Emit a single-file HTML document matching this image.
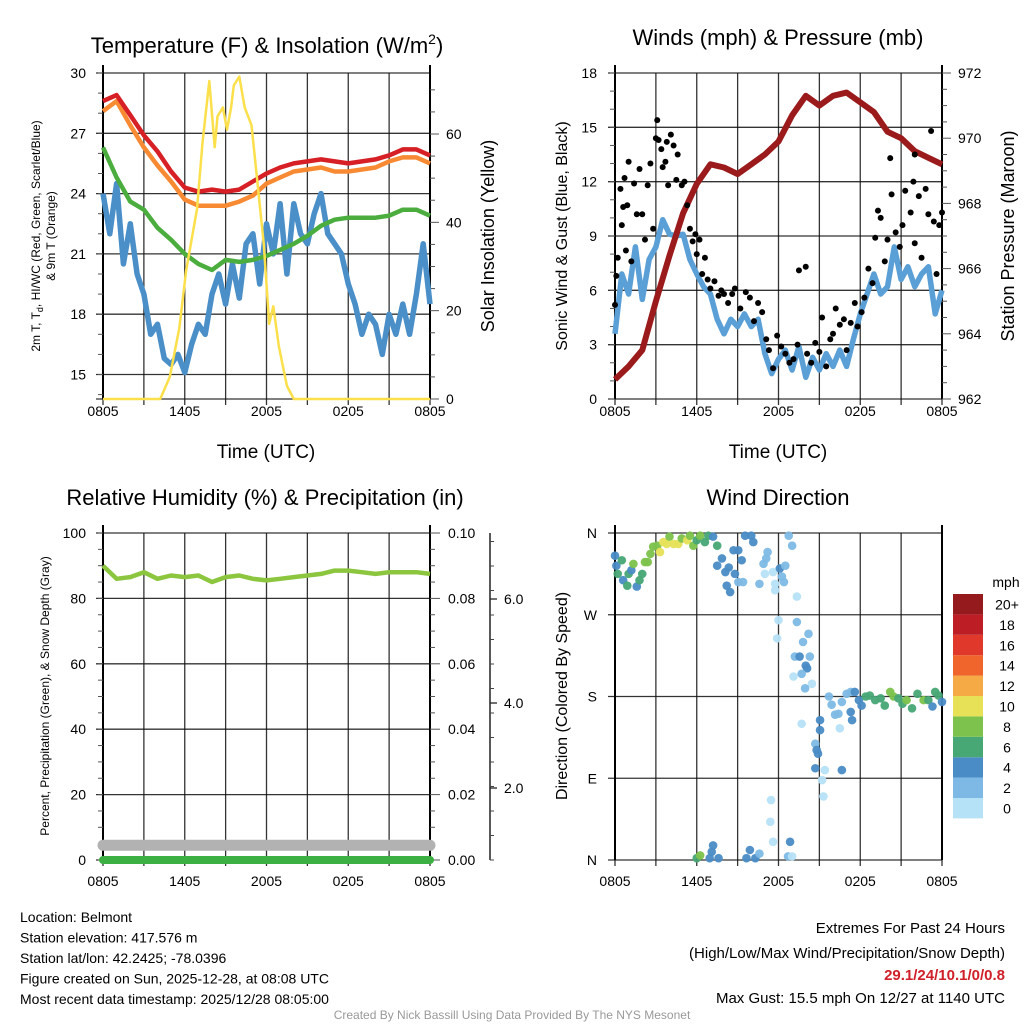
<!DOCTYPE html>
<html><head><meta charset="utf-8"><style>
html,body{margin:0;padding:0;background:#fff;}
svg{display:block;font-family:"Liberation Sans",sans-serif;}
</style></head><body>
<svg id="c" width="1024" height="1024" viewBox="0 0 1024 1024"></svg>
<script>
// ---------- DATA ----------
const hours = [0,1,2,3,4,5,6,7,8,9,10,11,12,13,14,15,16,17,18,19,20,21,22,23,24];
const xTickLabels = ["0805","1405","2005","0205","0805"];
const tempRed = [28.6,28.9,27.9,26.9,26.1,25.1,24.3,24.1,24.2,24.1,24.2,24.6,25.0,25.3,25.5,25.6,25.7,25.6,25.5,25.6,25.7,25.9,26.2,26.2,25.9];
const tempOrange = [28.1,28.6,27.4,26.3,25.4,24.6,23.7,23.4,23.4,23.4,23.6,23.9,24.5,24.8,25.1,25.2,25.3,25.1,25.1,25.2,25.3,25.6,25.8,25.8,25.5];
const tempGreen = [26.3,24.8,23.6,23.2,22.3,21.7,21.0,20.5,20.2,20.7,20.6,20.7,20.9,21.2,21.5,21.9,22.4,22.7,22.8,22.8,22.8,22.9,23.2,23.2,22.9];
const halfHours = [0,0.5,1,1.5,2,2.5,3,3.5,4,4.5,5,5.5,6,6.5,7,7.5,8,8.5,9,9.5,10,10.5,11,11.5,12,12.5,13,13.5,14,14.5,15,15.5,16,16.5,17,17.5,18,18.5,19,19.5,20,20.5,21,21.5,22,22.5,23,23.5,24];
const tempBlue = [24.0,22.0,24.5,20.5,22.5,20.0,19.0,17.0,17.5,15.8,15.5,16.0,15.1,16.5,17.5,17.0,19.0,20.0,18.5,20.5,18.8,21.5,22.0,19.5,22.5,21.0,23.5,20.0,23.5,22.0,21.5,23.0,24.0,22.0,21.5,21.0,19.5,18.5,17.0,18.0,17.5,16.0,18.0,17.0,18.5,17.0,19.0,21.5,18.5];
const solarTimes = [0,4.2,4.9,5.6,6.1,6.9,7.3,7.8,8.2,8.4,8.8,9.1,9.4,9.6,10.0,10.4,10.9,11.3,11.8,12.2,12.5,12.9,13.5,14.0,24];
const solarVals = [0,0,5,16,29,43,58,72,57,64,66,61,66,71,73,66,62,50,35,17,21,12,3,0,0];
const windBlue = [3.6,6.9,5.8,8.4,5.5,7.7,8.4,9.9,9.1,9.0,9.1,7.7,6.9,6.2,5.8,4.4,3.6,4.4,4.0,4.7,4.0,4.4,2.5,1.4,2.2,2.7,1.6,2.9,1.2,2.3,1.6,2.5,1.8,2.7,1.8,3.3,4.7,5.8,6.9,5.8,6.2,8.4,6.6,7.3,6.2,6.9,7.3,4.7,6.0];
const pressure = [962.6,963.0,963.5,965.0,966.4,967.7,968.6,969.2,969.1,968.9,969.2,969.5,969.9,970.7,971.3,971.0,971.3,971.4,971.1,970.8,970.2,970.0,969.6,969.4,969.2];
const gustTimes = [0.0,0.1,0.2,0.4,0.5,0.6,0.7,0.8,0.9,1.0,1.2,1.4,1.6,1.8,2.0,2.2,2.4,2.6,2.8,3.0,3.1,3.2,3.4,3.5,3.7,3.8,3.9,4.1,4.3,4.5,4.6,4.9,5.1,5.3,5.5,5.7,5.9,6.0,6.2,6.4,6.6,6.8,7.0,7.3,7.6,7.8,8.0,8.3,8.6,8.8,9.2,9.6,9.9,10.2,10.5,10.8,11.1,11.3,11.6,11.9,12.2,12.5,12.8,13.1,13.4,13.5,14.0,14.1,14.4,14.7,15.0,15.2,15.5,15.8,16.0,16.2,16.5,16.8,17.0,17.3,17.6,17.8,18.1,18.3,18.6,18.9,19.1,19.3,19.5,19.8,20.0,20.3,20.6,20.9,21.1,21.3,21.7,22.0,22.3,22.5,22.8,23.0,23.2,23.4,23.6,23.8,24.0,22.0,20.2,21.9];
const gustVals = [5.2,6.8,7.8,11.6,9.6,10.6,12.2,8.2,10.7,13.1,7.6,11.9,10.2,12.7,10.2,8.8,11.8,13.0,9.4,14.4,15.4,14.3,13.8,12.8,13.1,14.2,11.8,14.6,14.0,12.1,13.5,11.8,12.0,10.7,9.4,8.7,9.1,8.0,8.8,6.9,7.8,6.6,6.1,6.5,5.7,6.0,5.8,5.3,5.8,6.1,5.0,5.9,5.6,4.3,5.3,4.8,3.3,2.7,1.7,3.5,2.9,2.5,2.0,2.2,3.0,7.1,7.3,2.5,2.0,3.1,2.6,4.5,1.8,3.3,3.6,5.0,4.1,4.4,2.7,4.2,5.3,4.0,4.8,5.6,7.2,6.4,8.9,10.4,10.0,7.6,8.8,11.3,9.2,8.4,9.6,11.5,10.3,8.6,11.2,7.8,11.6,10.2,14.8,9.8,6.9,9.6,10.3,13.5,13.3,12.0];
const rhVals = [90,86,86.5,88,86,87,86.5,87,85,86.5,87,86,85.5,86,86.5,87,87.5,88.5,88.5,88,87.5,88,88,88,87.5];
const precipVals = [0,0,0,0,0,0,0,0,0,0,0,0,0,0,0,0,0,0,0,0,0,0,0,0,0];
const snowVals = [0.045,0.045,0.045,0.045,0.045,0.045,0.045,0.045,0.045,0.045,0.045,0.045,0.045,0.045,0.045,0.045,0.045,0.045,0.045,0.045,0.045,0.045,0.045,0.045,0.045];
const dirTimes = [0,0.1,0.2,0.5,0.6,0.9,1.0,1.2,1.35,1.6,1.8,2.0,2.2,2.4,2.6,2.8,3.1,3.3,3.55,3.8,4.0,4.3,4.65,4.9,5.3,5.5,5.75,6.0,6.25,6.6,6.85,7.2,7.5,7.5,7.85,8.1,8.35,8.2,8.45,8.7,8.8,9.05,9.3,9.05,9.4,9.55,10.0,10.15,10.6,10.9,11.1,11.2,11.0,11.6,11.75,11.75,12.1,12.25,12.4,12.5,12.75,13.0,13.35,12.0,11.9,13.35,13.8,14.2,13.2,13.55,14.0,14.1,14.3,14.45,13.7,13.1,13.95,13.7,15.05,15.05,14.7,14.8,14.9,14.7,15.4,15.2,15.3,16.65,16.5,17.4,17.3,15.7,15.9,16.15,16.4,16.65,17.0,17.3,17.6,17.9,18.1,18.4,18.7,19.1,19.5,19.8,20.2,20.45,20.8,21.1,21.4,21.8,22.2,22.65,23.0,23.3,23.5,23.75,24.0,6.0,6.25,6.95,7.1,7.2,7.6,9.65,9.9,10.3,10.6,11.4,11.45,11.6,12.7,12.85,13.0];
const dirVals = [335,324,315,330,308,302,315,319,326,301,308,315,328,328,337,345,346,339,350,348,356,348,348,354,352,357,346,352,357,350,357,356,346,324,332,317,322,302,295,341,315,341,330,306,306,357,357,350,304,326,332,339,315,317,304,297,321,312,306,324,357,346,290,264,244,262,240,249,224,224,214,211,224,194,205,202,189,150,154,143,128,121,117,101,99,88,70,99,145,154,163,180,171,160,161,174,183,185,185,176,170,180,181,176,178,170,185,180,178,172,176,167,183,176,176,169,185,181,174,2,5,2,9,16,2,2,11,2,7,42,66,20,4,20,4];
const dirSpeeds = [5,5,7,7,5,7,7,5,9,5,7,7,9,9,9,9,9,11,11,11,9,11,11,9,11,9,9,7,9,7,7,5,7,5,5,5,5,5,5,5,5,5,5,3,3,5,5,5,3,3,3,3,1,1,1,1,5,3,3,3,3,3,1,1,1,3,3,3,3,5,5,5,3,1,3,1,3,1,5,5,3,5,5,5,1,1,1,5,1,5,5,3,3,3,3,3,3,3,5,5,5,7,7,7,7,7,9,9,7,7,9,7,7,9,7,5,7,7,5,7,9,5,5,5,5,5,5,5,3,1,1,1,3,5,1];
const speedLabels = ["0","2","4","6","8","10","12","14","16","18","20+"];
const speedColors = ["#b6e2f8","#7db9e4","#4a8cc5","#47a775","#7cc24c","#e6e157","#f6aa45","#f0652c","#e0392c","#bd1e26","#941a1d"];

// ---------- HELPERS ----------
const NS="http://www.w3.org/2000/svg";
const svg=document.getElementById('c');
function mk(tag,attrs,parent){const e=document.createElementNS(NS,tag);for(const k in attrs)e.setAttribute(k,attrs[k]);(parent||svg).appendChild(e);return e;}
function txt(x,y,s,size,anchor,extra){const e=mk('text',Object.assign({x:x,y:y,'font-size':size,'text-anchor':anchor||'middle',fill:'#000'},extra||{}));e.textContent=s;return e;}
function lin(d0,d1,r0,r1){return v=>r0+(v-d0)/(d1-d0)*(r1-r0);}
function pathD(xs,ys,fx,fy){return xs.map((t,i)=>(i?'L':'M')+fx(t).toFixed(1)+','+fy(ys[i]).toFixed(1)).join('');}

function frame(x0,x1,y0,y1,name){
  const g=mk('g',{});
  
  
  for(let h=0;h<=24;h+=3){const x=lin(0,24,x0,x1)(h);
    const l=mk('line',{x1:x,x2:x,y1:y0,y2:y1+6,stroke:'#111','stroke-width':1.3,'stroke-opacity':0.85},g);
    
    }
  return g;
}
function hgrid(x0,x1,ys,name){
  ys.forEach(y=>{const l=mk('line',{x1:x0-7,x2:x1,y1:y,y2:y,stroke:'#111','stroke-width':1.3,'stroke-opacity':0.85});
    
    });
}
function xLabels(x0,x1,y){
  xTickLabels.forEach((s,i)=>{const t=txt(lin(0,4,x0,x1)(i),y,s,14);
    
    });
}
function border(x0,x1,y0,y1){
  const l=mk('line',{x1:x0,x2:x0,y1:y0-8,y2:y1,stroke:'#000','stroke-width':2});
  
  
  const r=mk('line',{x1:x1,x2:x1,y1:y0-8,y2:y1,stroke:'#000','stroke-width':2});
  
  
}

// ================= PANEL 1 =================
{
const x0=103,x1=430,y0=73,y1=399;
const fx=lin(0,24,x0,x1), fy=lin(30,15,73,374.5), fs=lin(0,60,399,134);
frame(x0,x1,y0,y1,'temperature');
hgrid(x0,x1,[15,18,21,24,27,30].map(fy).concat([y1]),'temperature');
border(x0,x1,y0,y1);
for(let v=14;v<=30;v++){const t=mk('line',{x1:x0-5,x2:x0,y1:fy(v),y2:fy(v),stroke:'#555','stroke-width':1});}
for(let v=0;v<=70;v+=5){const t=mk('line',{x1:x1,x2:x1+(v%20?5:9),y1:fs(v),y2:fs(v),stroke:'#555','stroke-width':1});}
[15,18,21,24,27,30].forEach(v=>{const t=txt(86,fy(v)+5,String(v),14,'end');});
[0,20,40,60].forEach(v=>{const t=txt(446,fs(v)+5,String(v),14,'start');});
const pb=mk('path',{d:pathD(halfHours,tempBlue,fx,fy),fill:'none',stroke:'#4a8fc8','stroke-width':5.5,'stroke-linejoin':'round'});

const pg=mk('path',{d:pathD(hours,tempGreen,fx,fy),fill:'none',stroke:'#4aad3e','stroke-width':4.5,'stroke-linejoin':'round'});

const po=mk('path',{d:pathD(hours,tempOrange,fx,fy),fill:'none',stroke:'#f78a32','stroke-width':4.5,'stroke-linejoin':'round'});

const pr=mk('path',{d:pathD(hours,tempRed,fx,fy),fill:'none',stroke:'#d71f26','stroke-width':4.5,'stroke-linejoin':'round'});

const py=mk('path',{d:pathD(solarTimes,solarVals,fx,fs),fill:'none',stroke:'#fbe04c','stroke-width':2.5,'stroke-linejoin':'round'});

xLabels(x0,x1,416);
const tt=mk('text',{x:267,y:53,'font-size':22,'text-anchor':'middle'});tt.innerHTML='Temperature (F) &amp; Insolation (W/m<tspan font-size="14" dy="-9">2</tspan><tspan dy="9">)</tspan>';

const xl=txt(266,458,'Time (UTC)',19);
const yl=mk('text',{'font-size':12,'text-anchor':'middle',transform:'translate(40,236) rotate(-90)'});
yl.innerHTML='2m T, T<tspan font-size="9" dy="3">d</tspan><tspan dy="-3">, HI/WC (Red, Green, Scarlet/Blue)</tspan>';

const yl2=txt(0,0,'& 9m T (Orange)',12,'middle',{transform:'translate(55,236) rotate(-90)'});

const yr=txt(0,0,'Solar Insolation (Yellow)',18,'middle',{transform:'translate(494,236) rotate(-90)'});

}

// ================= PANEL 2 =================
{
const x0=615,x1=942,y0=73,y1=399;
const fx=lin(0,24,x0,x1), fy=lin(0,18,399,73), fp=lin(962,972,399,73);
frame(x0,x1,y0,y1,'winds');
hgrid(x0,x1,[0,3,6,9,12,15,18].map(fy),'winds');
border(x0,x1,y0,y1);
for(let v=0;v<=18;v++){const t=mk('line',{x1:x0-5,x2:x0,y1:fy(v),y2:fy(v),stroke:'#555','stroke-width':1});}
for(let v=962;v<=972;v+=0.5){const t=mk('line',{x1:x1,x2:x1+(v%2?5:9),y1:fp(v),y2:fp(v),stroke:'#555','stroke-width':1});}
[0,3,6,9,12,15,18].forEach(v=>{const t=txt(597,fy(v)+5,String(v),14,'end');});
[962,964,966,968,970,972].forEach(v=>{const t=txt(958,fp(v)+5,String(v),14,'start');});
const pb=mk('path',{d:pathD(halfHours,windBlue,fx,fy),fill:'none',stroke:'#5a9fd6','stroke-width':5.5,'stroke-linejoin':'round'});

const pm=mk('path',{d:pathD(hours,pressure,fx,fp),fill:'none',stroke:'#9b1a1c','stroke-width':6,'stroke-linejoin':'round'});

gustTimes.forEach((t,i)=>{const c=mk('circle',{cx:fx(t),cy:fy(gustVals[i]),r:3,fill:'#000'});
  
  });
xLabels(x0,x1,416);
const tt=txt(778,45,'Winds (mph) & Pressure (mb)',22);
const xl=txt(778,458,'Time (UTC)',19);
const yl=txt(0,0,'Sonic Wind & Gust (Blue, Black)',16,'middle',{transform:'translate(567,236) rotate(-90)'});

const yr=txt(0,0,'Station Pressure (Maroon)',18,'middle',{transform:'translate(1014,236) rotate(-90)'});

}

// ================= PANEL 3 =================
{
const x0=103,x1=430,y0=533,y1=860;
const fx=lin(0,24,x0,x1), fy=lin(0,100,860,533), fpr=lin(0,0.1,860,533);
frame(x0,x1,y0,y1,'humidity');
hgrid(x0,x1,[0,20,40,60,80,100].map(fy),'humidity');
border(x0,x1,y0,y1);
for(let v=0;v<=100;v+=5){const t=mk('line',{x1:x0-5,x2:x0,y1:fy(v),y2:fy(v),stroke:'#555','stroke-width':1});}
for(let v=0;v<=20;v++){const t=mk('line',{x1:x1,x2:x1+(v%4?5:10),y1:fpr(v*0.005),y2:fpr(v*0.005),stroke:'#555','stroke-width':1});}
[0,20,40,60,80,100].forEach(v=>{const t=txt(86,fy(v)+5,String(v),14,'end');});
["0.00","0.02","0.04","0.06","0.08","0.10"].forEach((s,i)=>{const t=txt(448,fpr(i*0.02)+5,s,14,'start');});
const sa=mk('line',{x1:490,x2:490,y1:533,y2:860,stroke:'#222','stroke-width':1.5});
for(let y=860;y>=540;y-=24.5){const t=mk('line',{x1:490,x2:494,y1:y,y2:y,stroke:'#444','stroke-width':1});}
[[788,'2.0'],[703,'4.0'],[599,'6.0']].forEach(p=>{const t=mk('line',{x1:490,x2:497,y1:p[0],y2:p[0],stroke:'#222','stroke-width':1.3});
  const l=txt(504,p[0]+5,p[1],14,'start');});
const fsn=lin(0,1,860,533);
const ps=mk('path',{d:pathD(hours,snowVals,fx,fsn),fill:'none',stroke:'#b2b2b2','stroke-width':11,'stroke-linecap':'round'});

const pp=mk('path',{d:pathD(hours,precipVals,fx,fpr),fill:'none',stroke:'#3cb043','stroke-width':8,'stroke-linecap':'round'});

const ph=mk('path',{d:pathD(hours,rhVals,fx,fy),fill:'none',stroke:'#8cc63f','stroke-width':4.5,'stroke-linejoin':'round'});

xLabels(x0,x1,886);
const tt=txt(265,505,'Relative Humidity (%) & Precipitation (in)',22);
const yl=txt(0,0,'Percent, Precipitation (Green), & Snow Depth (Gray)',12,'middle',{transform:'translate(49,696) rotate(-90)'});

}

// ================= PANEL 4 =================
{
const x0=615,x1=942,y0=533,y1=860;
const fx=lin(0,24,x0,x1), fd=lin(0,360,860,533);
frame(x0,x1,y0,y1,'wind-direction');
hgrid(x0,x1,[0,90,180,270,360].map(fd),'wind-direction');
border(x0,x1,y0,y1);
[['N',360],['W',270],['S',180],['E',90],['N',0]].forEach(p=>{const t=txt(597,fd(p[1])+5,p[0],14,'end');});
dirTimes.forEach((t,i)=>{const idx=Math.min(10,Math.floor(dirSpeeds[i]/2));
  const c=mk('circle',{cx:fx(t),cy:fd(dirVals[i]),r:4.3,fill:speedColors[idx],'fill-opacity':0.95});
  
  });
xLabels(x0,x1,886);
const tt=txt(778,505,'Wind Direction',22);
const yl=txt(0,0,'Direction (Colored By Speed)',16,'middle',{transform:'translate(567,696) rotate(-90)'});

const cbT=txt(1006,587,'mph',14);
speedLabels.forEach((s,i)=>{const y=594+(10-i)*20.4;
  const r=mk('rect',{x:953,y:y,width:30,height:20.4,fill:speedColors[i]});
  
  
  const l=txt(1007,y+15.5,s,14);
  
  });
}

// ================= FOOTER TEXT =================
{
const lines=["Location: Belmont","Station elevation: 417.576 m","Station lat/lon: 42.2425; -78.0396","Figure created on Sun, 2025-12-28, at 08:08 UTC","Most recent data timestamp: 2025/12/28 08:05:00"];
lines.forEach((s,i)=>{const t=txt(20,922+i*20.5,s,14,'start');});
const a=txt(1005,933,'Extremes For Past 24 Hours',15,'end');
const b=txt(1005,958,'(High/Low/Max Wind/Precipitation/Snow Depth)',15,'end');
const c=txt(1005,980,'29.1/24/10.1/0/0.8',15,'end',{fill:'#d0202a','font-weight':'bold'});
const d=txt(1005,1003,'Max Gust: 15.5 mph On 12/27 at 1140 UTC',15,'end');
const e=txt(512,1019,'Created By Nick Bassill Using Data Provided By The NYS Mesonet',12,'middle',{fill:'#999'});
}
</script>
</body></html>
